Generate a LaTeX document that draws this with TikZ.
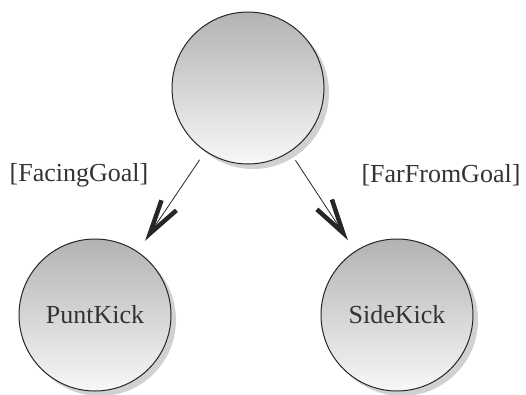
\documentclass[tikz,border=0pt]{standalone}
\usepackage{fontspec}
\setmainfont{Liberation Serif}
\usetikzlibrary{arrows.meta, positioning, shadows}

\begin{document}
\begin{tikzpicture}[x=1pt, y=-1pt,
    state/.style={draw=black!85, line width=1pt, circle, minimum size=152pt, inner sep=0pt,
        top color=black!30, bottom color=black!3,
        drop shadow={shadow xshift=5pt, shadow yshift=-5pt, fill=black!30, opacity=0.6},
        font=\fontsize{26}{30}\selectfont, text=black!80},
    guard/.style={font=\fontsize{26}{30}\selectfont, text=black!80},
    trans/.style={draw=black!85, line width=0.8pt, shorten <=10pt, shorten >=13pt,
        -{Straight Barb[length=34pt, width=18pt, line width=4.5pt]}}]
    \useasboundingbox (0,0) rectangle (526,394);
    % Kick selection states
    \node[state] (start) at (248,88) {};
    \node[state] (punt) at (95,315) {PuntKick};
    \node[state] (side) at (397,315) {SideKick};
    \node[guard] (facing) at (79,175) {[FacingGoal]};
    \node[guard] (far) at (441,175) {[FarFromGoal]};

    \draw[trans] (start) -- (punt);
    \draw[trans] (start) -- (side);
\end{tikzpicture}
\end{document}
